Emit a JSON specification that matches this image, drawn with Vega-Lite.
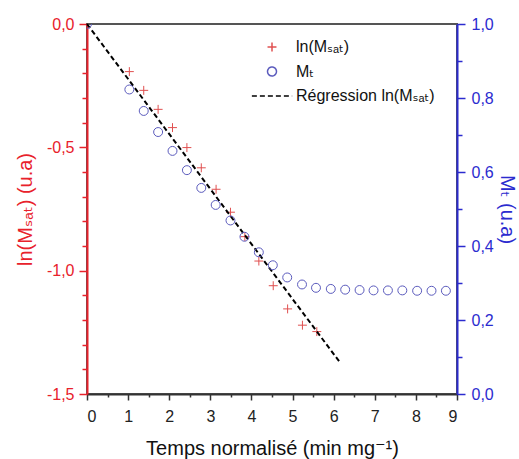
{
  "$schema": "https://vega.github.io/schema/vega-lite/v6.json",
  "width": 370,
  "height": 370,
  "autosize": {"type": "none"},
  "padding": {"left": 87, "top": 24, "right": 62, "bottom": 65},
  "background": "white",
  "datasets": {
    "lnmsat": [
      {"x": 1.03, "y": -0.193, "series": "ln(Mₛₐₜ)"},
      {"x": 1.38, "y": -0.269, "series": "ln(Mₛₐₜ)"},
      {"x": 1.73, "y": -0.346, "series": "ln(Mₛₐₜ)"},
      {"x": 2.08, "y": -0.420, "series": "ln(Mₛₐₜ)"},
      {"x": 2.43, "y": -0.501, "series": "ln(Mₛₐₜ)"},
      {"x": 2.78, "y": -0.583, "series": "ln(Mₛₐₜ)"},
      {"x": 3.14, "y": -0.670, "series": "ln(Mₛₐₜ)"},
      {"x": 3.49, "y": -0.763, "series": "ln(Mₛₐₜ)"},
      {"x": 3.84, "y": -0.862, "series": "ln(Mₛₐₜ)"},
      {"x": 4.18, "y": -0.961, "series": "ln(Mₛₐₜ)"},
      {"x": 4.53, "y": -1.061, "series": "ln(Mₛₐₜ)"},
      {"x": 4.88, "y": -1.155, "series": "ln(Mₛₐₜ)"},
      {"x": 5.24, "y": -1.221, "series": "ln(Mₛₐₜ)"},
      {"x": 5.59, "y": -1.247, "series": "ln(Mₛₐₜ)"}
    ],
    "reg": [
      {"x": 0, "y": 0, "series": "Régression ln(Mₛₐₜ)"},
      {"x": 6.14, "y": -1.369, "series": "Régression ln(Mₛₐₜ)"}
    ],
    "mt": [
      {"x": 0, "m": 1.0, "series": "Mₜ"},
      {"x": 1.03, "m": 0.823, "series": "Mₜ"},
      {"x": 1.38, "m": 0.765, "series": "Mₜ"},
      {"x": 1.73, "m": 0.708, "series": "Mₜ"},
      {"x": 2.08, "m": 0.657, "series": "Mₜ"},
      {"x": 2.43, "m": 0.605, "series": "Mₜ"},
      {"x": 2.78, "m": 0.557, "series": "Mₜ"},
      {"x": 3.13, "m": 0.511, "series": "Mₜ"},
      {"x": 3.49, "m": 0.469, "series": "Mₜ"},
      {"x": 3.83, "m": 0.425, "series": "Mₜ"},
      {"x": 4.18, "m": 0.383, "series": "Mₜ"},
      {"x": 4.52, "m": 0.348, "series": "Mₜ"},
      {"x": 4.87, "m": 0.315, "series": "Mₜ"},
      {"x": 5.23, "m": 0.296, "series": "Mₜ"},
      {"x": 5.57, "m": 0.287, "series": "Mₜ"},
      {"x": 5.93, "m": 0.284, "series": "Mₜ"},
      {"x": 6.28, "m": 0.282, "series": "Mₜ"},
      {"x": 6.63, "m": 0.281, "series": "Mₜ"},
      {"x": 6.97, "m": 0.280, "series": "Mₜ"},
      {"x": 7.32, "m": 0.280, "series": "Mₜ"},
      {"x": 7.67, "m": 0.280, "series": "Mₜ"},
      {"x": 8.03, "m": 0.279, "series": "Mₜ"},
      {"x": 8.38, "m": 0.279, "series": "Mₜ"},
      {"x": 8.73, "m": 0.279, "series": "Mₜ"}
    ]
  },
  "encoding": {
    "x": {
      "field": "x", "type": "quantitative",
      "scale": {"domain": [0, 9], "nice": false, "zero": false},
      "axis": {
        "orient": "bottom",
        "title": "Temps normalisé (min mg⁻¹)",
        "values": [0, 0.5, 1, 1.5, 2, 2.5, 3, 3.5, 4, 4.5, 5, 5.5, 6, 6.5, 7, 7.5, 8, 8.5, 9],
        "labelExpr": "abs(datum.value - round(datum.value)) < 0.01 ? format(datum.value, 'd') : ''",
        "labelOverlap": false,
        "tickSize": {"condition": {"test": "abs(datum.value - round(datum.value)) < 0.01", "value": 6}, "value": 3},
        "domainColor": "#333333",
        "tickColor": "#333333",
        "labelColor": "#222222",
        "titleColor": "#111111",
        "domainWidth": 2,
        "labelPadding": 8,
        "titlePadding": 14
      }
    }
  },
  "layer": [
    {
      "encoding": {
        "y": {
          "field": "y", "type": "quantitative",
          "scale": {"domain": [-1.5, 0], "nice": false, "zero": false},
          "axis": {
            "orient": "left",
            "title": "ln(Mₛₐₜ) (u.a)",
            "values": [-1.5, -1.4, -1.3, -1.2, -1.1, -1.0, -0.9, -0.8, -0.7, -0.6, -0.5, -0.4, -0.3, -0.2, -0.1, 0],
            "labelExpr": "abs(datum.value + 1.5) < 0.01 ? '-1,5' : abs(datum.value + 1) < 0.01 ? '-1,0' : abs(datum.value + 0.5) < 0.01 ? '-0,5' : abs(datum.value) < 0.01 ? '0,0' : ''",
            "labelOverlap": false,
            "tickSize": {"condition": {"test": "abs(datum.value*2 - round(datum.value*2)) < 0.01", "value": 8}, "value": 5},
            "domainColor": "#e8212b",
            "tickColor": "#e8212b",
            "labelColor": "#e8212b",
            "titleColor": "#e8212b",
            "domainWidth": 2,
            "labelPadding": 5,
            "titlePadding": 11
          }
        }
      },
      "layer": [
        {
          "data": {"name": "lnmsat"},
          "mark": {"type": "point", "filled": false, "strokeWidth": 1, "size": 80, "opacity": 1},
          "encoding": {
            "color": {
              "field": "series", "type": "nominal",
              "scale": {"domain": ["ln(Mₛₐₜ)", "Mₜ", "Régression ln(Mₛₐₜ)"], "range": ["#e05050", "#5b5bbd", "#000000"]},
              "legend": {
                "encode": {
                  "symbols": {"update": {"strokeWidth": {"signal": "indexof(datum.label, 'R') === 0 ? 2 : 1"}}}
                }
              }
            },
            "shape": {
              "field": "series", "type": "nominal",
              "scale": {"domain": ["ln(Mₛₐₜ)", "Mₜ", "Régression ln(Mₛₐₜ)"], "range": ["M-1,0L1,0M0,-1L0,1", "circle", "M-4.5,0L4.5,0"]}
            }
          }
        },
        {
          "data": {"name": "reg"},
          "mark": {"type": "line", "strokeWidth": 2},
          "encoding": {
            "color": {"field": "series", "type": "nominal"},
            "strokeDash": {
              "field": "series", "type": "nominal",
              "scale": {"domain": ["ln(Mₛₐₜ)", "Mₜ", "Régression ln(Mₛₐₜ)"], "range": [[1, 0], [1, 0], [5, 3]]}
            }
          }
        }
      ]
    },
    {
      "data": {"name": "mt"},
      "mark": {"type": "point", "filled": false, "strokeWidth": 1, "size": 80, "opacity": 1, "clip": true},
      "encoding": {
        "y": {
          "field": "m", "type": "quantitative",
          "scale": {"domain": [0, 1], "nice": false},
          "axis": {
            "orient": "right",
            "title": "Mₜ (u.a)",
            "titleAngle": 90,
            "values": [0, 0.1, 0.2, 0.3, 0.4, 0.5, 0.6, 0.7, 0.8, 0.9, 1.0],
            "labelExpr": "abs(datum.value*5 - round(datum.value*5)) < 0.01 ? replace(format(datum.value, '.1f'), '.', ',') : ''",
            "labelOverlap": false,
            "tickSize": {"condition": {"test": "abs(datum.value*5 - round(datum.value*5)) < 0.01", "value": 8}, "value": 5},
            "domainColor": "#2b2bcf",
            "tickColor": "#2b2bcf",
            "labelColor": "#2b2bcf",
            "titleColor": "#2b2bcf",
            "domainWidth": 2,
            "labelPadding": 6,
            "titlePadding": 3
          }
        },
        "color": {"field": "series", "type": "nominal"},
        "shape": {"field": "series", "type": "nominal"}
      }
    }
  ],
  "resolve": {"scale": {"y": "independent"}},
  "config": {
    "font": "Liberation Sans, DejaVu Sans",
    "view": {"stroke": "#555555", "strokeWidth": 2},
    "axis": {
      "grid": false,
      "labelOverlap": false,
      "labelFontSize": 16,
      "titleFontSize": 20,
      "titleFontWeight": "normal",
      "tickWidth": 1.5,
      "labelFont": "Liberation Sans, DejaVu Sans",
      "titleFont": "Liberation Sans, DejaVu Sans"
    },
    "legend": {
      "orient": "none",
      "legendX": 177,
      "legendY": 15,
      "title": null,
      "labelFontSize": 16,
      "labelColor": "#111111",
      "labelFont": "Liberation Sans, DejaVu Sans",
      "symbolSize": 80,
      "rowPadding": 8.5,
      "labelOffset": 16,
      "symbolFillColor": "transparent"
    }
  }
}
